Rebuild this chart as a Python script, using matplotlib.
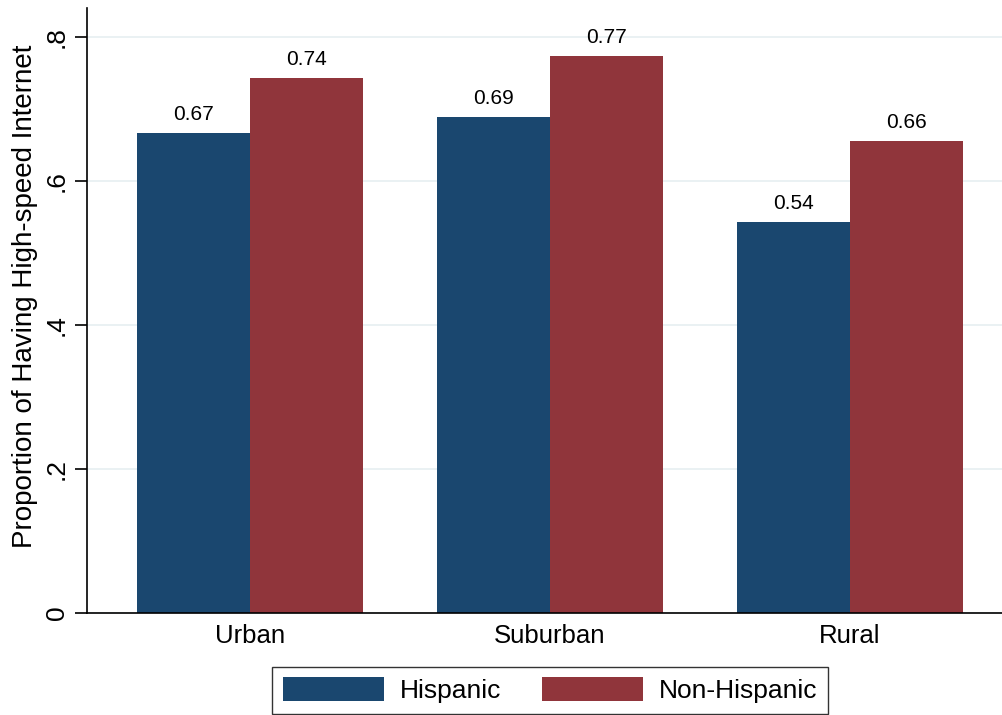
import numpy as np
import matplotlib
matplotlib.use("Agg")
import matplotlib.pyplot as plt

plt.rcParams['font.family'] = ['Liberation Sans', 'DejaVu Sans']

# данные с графика
categories = ["Urban", "Suburban", "Rural"]
hispanic = [0.667, 0.689, 0.543]
non_hispanic = [0.743, 0.774, 0.656]
labels_h = ["0.67", "0.69", "0.54"]
labels_nh = ["0.74", "0.77", "0.66"]
yticks = [0, 0.2, 0.4, 0.6, 0.8]
ytick_labels = ["0", ".2", ".4", ".6", ".8"]

blue = "#1a476f"
red = "#90353b"

fig = plt.figure(figsize=(10.02, 7.15), dpi=100)
ax = fig.add_axes([0.0868, 0.1427, 0.9132, 0.8461])

x = np.arange(len(categories))
w = 0.377
b1 = ax.bar(x - w / 2, hispanic, w, color=blue, label="Hispanic")
b2 = ax.bar(x + w / 2, non_hispanic, w, color=red, label="Non-Hispanic")

# подписи значений над столбцами
for bars, labs in ((b1, labels_h), (b2, labels_nh)):
    for rect, lab in zip(bars, labs):
        ax.text(rect.get_x() + rect.get_width() / 2, rect.get_height() + 0.012, lab,
                ha="center", va="bottom", fontsize=15)

ax.set_xlim(-0.543, 2.507)
ax.set_ylim(0, 0.84)
ax.set_xticks(x)
ax.set_xticklabels(categories, fontsize=18.5)
ax.set_yticks(yticks)
ax.set_yticklabels(ytick_labels, fontsize=19, rotation=90, va="center")
ax.tick_params(axis="x", length=0, pad=8)
ax.tick_params(axis="y", length=9, width=1.2, pad=4)
ax.set_ylabel("Proportion of Having High-speed Internet", fontsize=20)
ax.yaxis.set_label_coords(-0.054, 0.524)

ax.grid(axis="y", color="#e6eff1", linewidth=1.2)
ax.set_axisbelow(True)
for s in ("top", "right"):
    ax.spines[s].set_visible(False)
ax.spines["left"].set_linewidth(1.2)
ax.spines["bottom"].set_linewidth(1.2)

leg = fig.legend(loc="lower center", bbox_to_anchor=(0.549, 0.002), ncol=2, fontsize=19,
                 frameon=True, fancybox=False, edgecolor="black", handlelength=3.83,
                 handleheight=1.0, handletextpad=0.6, columnspacing=1.55,
                 borderpad=0.4, borderaxespad=0)
leg.get_frame().set_linewidth(1.0)

fig.savefig("out.png", dpi=100)
